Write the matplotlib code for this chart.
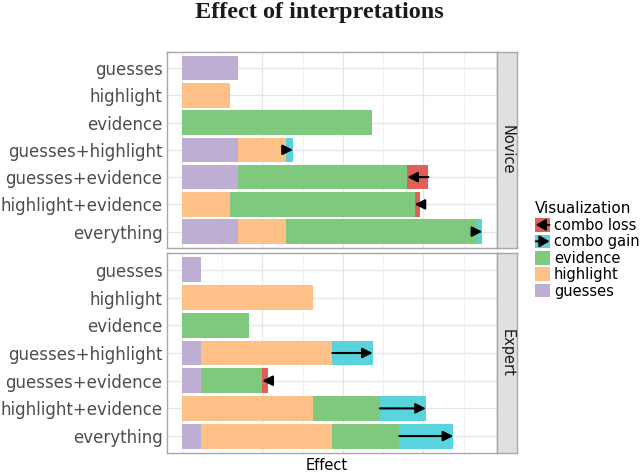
import numpy as np
import matplotlib
matplotlib.use('Agg')
import matplotlib.pyplot as plt
from matplotlib.patches import Patch, Rectangle, FancyArrowPatch
from matplotlib.legend_handler import HandlerPatch

# ---------------- data (effect units) ----------------
rows = ['guesses', 'highlight', 'evidence', 'guesses+highlight',
        'guesses+evidence', 'highlight+evidence', 'everything']
components = ['guesses', 'highlight', 'evidence']

novice_single = [0.70, 0.60, 2.36]      # guesses, highlight, evidence
novice_combo = [0, 0, 0, 0.08, -0.26, -0.07, 0.07]

expert_single = [0.24, 1.63, 0.83]
expert_combo = [0, 0, 0, 0.50, -0.07, 0.57, 0.67]

panels = ['Novice', 'Expert']

col = {'guesses': '#BEAED4', 'highlight': '#FDC086', 'evidence': '#7FC97F',
       'loss': '#DE6058', 'gain': '#5AD4DC'}


def parts(row):
    if row == 'everything':
        return components
    return [c for c in components if c in row.split('+')]


# common x range (ggplot style 5% expansion)
totals = []
for single, combo in [(novice_single, novice_combo), (expert_single, expert_combo)]:
    d = dict(zip(components, single))
    for r, cb in zip(rows, combo):
        s = sum(d[c] for c in parts(r))
        totals.append(max(s, s + cb))
xmax = max(totals)
xlim = (-0.05 * xmax, xmax * 1.05)

W, H = 640, 472
fig = plt.figure(figsize=(6.4, 4.72), dpi=100)

left, right = 166.7, 497.3
boxes = [(51.7, 248.0), (253.3, 452.7)]

arrow_style = '-|>,head_length=0.6,head_width=0.3'

for (top, bot), name, single, combo in zip(boxes, panels,
                                           [novice_single, expert_single],
                                           [novice_combo, expert_combo]):
    ax = fig.add_axes([left / W, 1 - bot / H, (right - left) / W, (bot - top) / H])
    d = dict(zip(components, single))
    for i, (r, cb) in enumerate(zip(rows, combo)):
        x0 = 0
        for c in parts(r):
            ax.barh(i, d[c], left=x0, height=0.9, color=col[c], lw=0, zorder=2)
            x0 += d[c]
        if cb > 0:
            ax.barh(i, cb, left=x0, height=0.9, color=col['gain'], lw=0, zorder=3)
        elif cb < 0:
            ax.barh(i, -cb, left=x0 + cb, height=0.9, color=col['loss'], lw=0, zorder=3)
        if cb != 0:
            ax.annotate('', xy=(x0 + cb, i), xytext=(x0, i),
                        arrowprops=dict(arrowstyle=arrow_style, color='black', lw=1.5,
                                        shrinkA=0, shrinkB=0, mutation_scale=10),
                        zorder=4)

    ax.set_xlim(xlim)
    ax.set_ylim(6.6, -0.6)
    ax.set_yticks(range(len(rows)))
    ax.set_yticklabels(rows, fontsize=12, color='#4D4D4D')
    ax.set_xticks(np.arange(0, xlim[1], 1.0))
    ax.set_xticks(np.arange(0.5, xlim[1], 1.0), minor=True)
    ax.set_xticklabels([])
    ax.tick_params(axis='both', which='both', length=0, pad=3)
    ax.grid(which='major', color='#E6E6E6', lw=0.9, zorder=0)
    ax.grid(which='minor', axis='x', color='#F2F2F2', lw=0.7, zorder=0)
    ax.set_axisbelow(True)
    for s in ax.spines.values():
        s.set_color('#A8A8A8')
        s.set_linewidth(1.0)

    # facet strip on the right
    st = fig.add_axes([right / W, 1 - bot / H, 20 / W, (bot - top) / H])
    st.set_facecolor('#E0E0E0')
    st.set_xticks([])
    st.set_yticks([])
    for s in st.spines.values():
        s.set_color('#A8A8A8')
        s.set_linewidth(1.0)
    st.text(0.5, 0.5, name, rotation=-90, ha='center', va='center',
            fontsize=10.5, color='#1A1A1A', transform=st.transAxes)

fig.text(319 / W, 1 - 18.3 / H, 'Effect of interpretations', ha='center', va='baseline',
         fontsize=17.5, fontweight='bold', family='Liberation Serif', color='#1A1A1A')
fig.text(327 / W, 1 - 469.5 / H, 'Effect', ha='center', va='baseline',
         fontsize=10.5, color='black')


# legend keys with arrows for combo gain/loss
class ArrowKey(HandlerPatch):
    def __init__(self, sign):
        super().__init__()
        self.sign = sign

    def create_artists(self, legend, orig_handle, xdescent, ydescent, width, height, fontsize, trans):
        box = Rectangle((-xdescent, -ydescent), width, height,
                        facecolor=orig_handle.get_facecolor(), edgecolor='none', transform=trans)
        xa, xb = -xdescent + 0.05 * width, -xdescent + 0.95 * width
        ym = -ydescent + height / 2
        if self.sign < 0:
            xa, xb = xb, xa
        arr = FancyArrowPatch((xa, ym), (xb, ym), arrowstyle='-|>,head_length=0.6,head_width=0.35',
                              mutation_scale=10, color='black', lw=1.4,
                              shrinkA=0, shrinkB=0, transform=trans)
        return [box, arr]


h_loss = Patch(facecolor=col['loss'], label='combo loss')
h_gain = Patch(facecolor=col['gain'], label='combo gain')
handles = [h_loss, h_gain,
           Patch(facecolor=col['evidence'], label='evidence'),
           Patch(facecolor=col['highlight'], label='highlight'),
           Patch(facecolor=col['guesses'], label='guesses')]
leg = fig.legend(handles=handles, title='Visualization', loc='center left',
                 bbox_to_anchor=(535 / W, 1 - 250 / H), frameon=False,
                 fontsize=10.5, title_fontsize=11, handlelength=1.05, handleheight=1.05,
                 handletextpad=0.25, labelspacing=0.1, borderpad=0, borderaxespad=0,
                 alignment='left',
                 handler_map={h_loss: ArrowKey(-1), h_gain: ArrowKey(1)})

fig.savefig('out.png', dpi=100)
